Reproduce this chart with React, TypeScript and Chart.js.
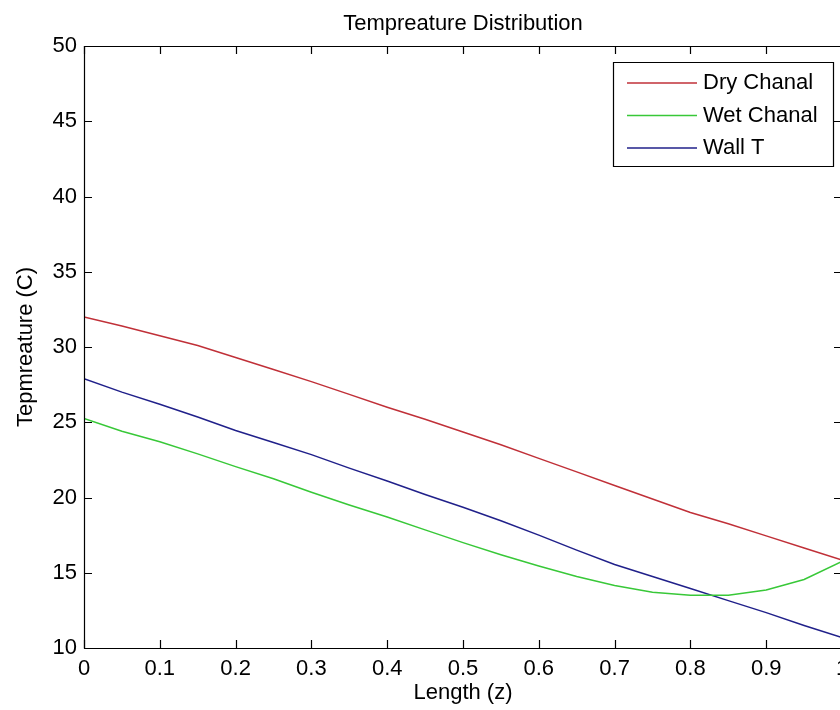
import { useEffect, useRef } from 'react';
import { Chart, registerables } from 'chart.js';

Chart.register(...registerables);

// ---- data ----
const zValues = [0, 0.05, 0.1, 0.15, 0.2, 0.25, 0.3, 0.35, 0.4, 0.45, 0.5, 0.55, 0.6, 0.65, 0.7, 0.75, 0.8, 0.85, 0.9, 0.95, 1.0];
const dryChanal = [32.0, 31.4, 30.75, 30.1, 29.3, 28.5, 27.7, 26.85, 26.0, 25.2, 24.35, 23.5, 22.6, 21.7, 20.8, 19.9, 19.0, 18.25, 17.45, 16.65, 15.85];
const wetChanal = [25.25, 24.4, 23.7, 22.9, 22.05, 21.25, 20.35, 19.5, 18.7, 17.85, 17.0, 16.2, 15.45, 14.75, 14.15, 13.7, 13.5, 13.5, 13.85, 14.55, 15.75];
const wallT = [27.9, 27.0, 26.2, 25.35, 24.45, 23.65, 22.85, 21.95, 21.1, 20.2, 19.35, 18.45, 17.5, 16.5, 15.55, 14.75, 13.95, 13.15, 12.35, 11.5, 10.7];
const seriesNames = ['Dry Chanal', 'Wet Chanal', 'Wall T'];
const xTickLabels = ['0', '0.1', '0.2', '0.3', '0.4', '0.5', '0.6', '0.7', '0.8', '0.9', '1'];
const yTickLabels = ['10', '15', '20', '25', '30', '35', '40', '45', '50'];
const chartTitle = 'Tempreature Distribution';
const xTitle = 'Length (z)';
const yTitle = 'Tepmreature (C)';

const FONT = '"Liberation Sans", Arial, sans-serif';
const FONT_SIZE = 22;
const COLORS = ['#c03038', '#38c838', '#20208a'];

export default function App() {
  const ref = useRef<HTMLCanvasElement>(null);

  useEffect(() => {
    const canvas = ref.current!;
    const seriesValues = [dryChanal, wetChanal, wallT];

    const framePlugin = {
      id: 'matlabFrame',
      afterDraw(chart: any) {
        const { ctx, chartArea: a, scales } = chart;
        const xs = scales.x;
        const ys = scales.y;
        ctx.save();
        ctx.strokeStyle = '#000';
        ctx.lineWidth = 1.2;
        // box
        ctx.beginPath();
        ctx.rect(Math.round(a.left) + 0.5, Math.round(a.top) + 0.5, Math.round(a.right - a.left), Math.round(a.bottom - a.top));
        ctx.stroke();
        // inward ticks
        const TL = 8;
        ctx.beginPath();
        xs.ticks.forEach((t: any) => {
          const px = Math.round(xs.getPixelForValue(t.value)) + 0.5;
          ctx.moveTo(px, a.bottom);
          ctx.lineTo(px, a.bottom - TL);
          ctx.moveTo(px, a.top);
          ctx.lineTo(px, a.top + TL);
        });
        ys.ticks.forEach((t: any) => {
          const py = Math.round(ys.getPixelForValue(t.value)) + 0.5;
          ctx.moveTo(a.left, py);
          ctx.lineTo(a.left + TL, py);
          ctx.moveTo(a.right, py);
          ctx.lineTo(a.right - TL, py);
        });
        ctx.stroke();

        // titles
        ctx.fillStyle = '#000';
        ctx.font = `${FONT_SIZE}px ${FONT}`;
        ctx.textAlign = 'center';
        ctx.textBaseline = 'middle';
        const cx = (a.left + a.right) / 2;
        ctx.fillText(chartTitle, cx, 24);
        ctx.fillText(xTitle, cx, 693);
        ctx.save();
        ctx.translate(26, (a.top + a.bottom) / 2);
        ctx.rotate(-Math.PI / 2);
        ctx.fillText(yTitle, 0, 0);
        ctx.restore();

        // legend
        const lx = 613, ly = 62, lw = 220, lh = 104;
        ctx.fillStyle = '#fff';
        ctx.fillRect(lx, ly, lw, lh);
        ctx.strokeStyle = '#000';
        ctx.lineWidth = 1.2;
        ctx.beginPath();
        ctx.rect(lx + 0.5, ly + 0.5, lw, lh);
        ctx.stroke();
        ctx.textAlign = 'left';
        seriesNames.forEach((name, i) => {
          const ry = ly + 21 + i * 32.5;
          ctx.strokeStyle = COLORS[i];
          ctx.lineWidth = 1.5;
          ctx.beginPath();
          ctx.moveTo(lx + 14, ry);
          ctx.lineTo(lx + 84, ry);
          ctx.stroke();
          ctx.fillStyle = '#000';
          ctx.fillText(name, lx + 90, ry);
        });
        ctx.restore();
      },
    };

    const chart = new Chart(canvas, {
      type: 'line',
      data: {
        datasets: seriesValues.map((vals, i) => ({
          label: seriesNames[i],
          data: zValues.map((z, j) => ({ x: z, y: vals[j] })),
          borderColor: COLORS[i],
          backgroundColor: COLORS[i],
          borderWidth: 1.5,
          pointRadius: 0,
          tension: 0,
          fill: false,
        })),
      },
      options: {
        responsive: false,
        animation: false,
        devicePixelRatio: 1,
        layout: { padding: { top: 46, right: 4, left: 0, bottom: 0 } },
        plugins: { legend: { display: false }, title: { display: false }, tooltip: { enabled: false } },
        scales: {
          x: {
            type: 'linear',
            min: 0,
            max: 1,
            grid: { display: false, drawTicks: false },
            border: { display: false },
            ticks: {
              stepSize: 0.1,
              maxRotation: 0,
              autoSkip: false,
              padding: 8,
              color: '#000',
              font: { family: FONT, size: FONT_SIZE },
              callback: (_v: any, idx: number) => xTickLabels[idx],
            },
            afterFit: (s: any) => {
              s.height = 62;
              s.paddingLeft = 0;
              s.paddingRight = 0;
            },
          },
          y: {
            type: 'linear',
            min: 10,
            max: 50,
            grid: { display: false, drawTicks: false },
            border: { display: false },
            ticks: {
              stepSize: 5,
              padding: 7,
              color: '#000',
              font: { family: FONT, size: FONT_SIZE },
              callback: (_v: any, idx: number) => yTickLabels[idx],
            },
            afterFit: (s: any) => {
              s.width = 84;
              s.paddingTop = 0;
              s.paddingBottom = 0;
            },
          },
        },
      },
      plugins: [framePlugin],
    });
    return () => chart.destroy();
  }, []);

  return (
    <div style={{ position: 'absolute', left: 0, top: 0, width: 840, height: 710, overflow: 'hidden', background: '#fff' }}>
      <canvas ref={ref} width={846} height={710} style={{ display: 'block' }} />
    </div>
  );
}
